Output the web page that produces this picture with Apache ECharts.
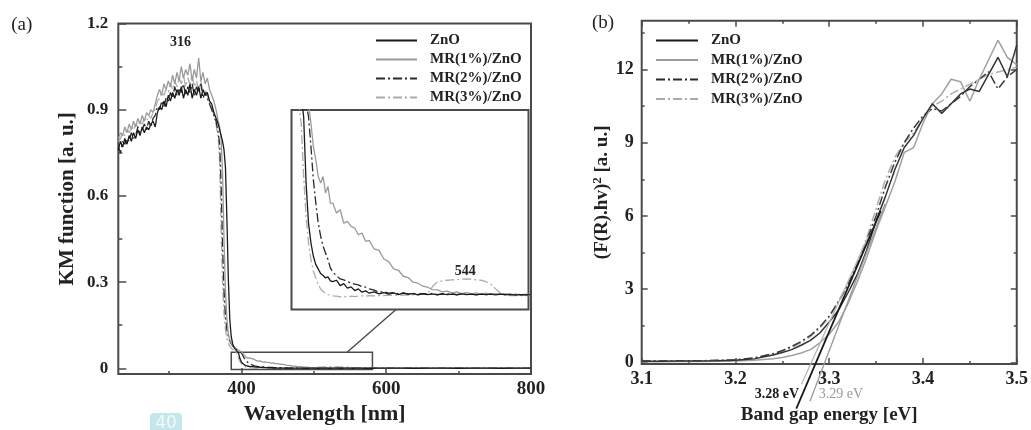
<!DOCTYPE html>
<html><head><meta charset="utf-8">
<script src="https://cdn.jsdelivr.net/npm/echarts@6/dist/echarts.min.js"></script>
<style>html,body{margin:0;padding:0;background:#fff}#c{width:1031px;height:430px}</style>
</head><body><div id="c"></div>
<script>
// ---------------- DATA ----------------
const seriesNames = ['ZnO', 'MR(1%)/ZnO', 'MR(2%)/ZnO', 'MR(3%)/ZnO'];

// (a) KM function vs wavelength
const wavelengths = [
  230,233,236,239,242,245,248,251,254,257,260,263,266,269,272,275,278,281,284,287,290,293,296,299,302,305,308,311,314,317,320,323,326,329,332,335,338,341,344,347,350,353,356,359,362,365,368,
  370,372,374,376,378,380,382,384,386,388,390,392,394,396,398,400,
  402,404,406,408,410,412,414,416,418,420,423,426,429,432,435,438,441,444,447,450,454,458,462,466,470,474,478,482,486,490,
  494,498,502,506,510,514,518,522,526,530,534,538,542,546,550,554,558,562,566,570,575,580,585,
  600,620,640,660,680,700,720,740,760,780,800
];
const kmZnO = [
  0.76,0.79,0.77,0.80,0.78,0.81,0.79,0.82,0.80,0.83,0.81,0.84,0.82,0.84,0.83,0.85,0.86,0.84,0.89,0.91,0.90,0.93,0.91,0.95,0.93,0.96,0.94,0.97,0.95,0.98,0.94,0.97,0.95,0.99,0.94,0.97,0.95,0.98,0.94,0.97,0.95,0.96,0.93,0.92,0.89,0.87,0.85,
  0.83,0.81,0.79,0.76,0.70,0.52,0.31,0.17,0.11,0.085,0.072,0.065,0.060,0.054,0.034,0.022,
  0.016,0.012,0.0095,0.0082,0.0068,0.0062,0.0055,0.0058,0.0046,0.0044,0.0048,0.0032,0.0038,0.0024,0.0028,0.0017,0.0022,0.0012,0.0016,0.0009,0.0013,0.0007,0.0011,0.0006,0.0010,0.0005,0.0009,0.0006,0.0008,0.0004,
  0.0008,0.0005,0.0007,0.0004,0.0007,0.0005,0.0006,0.0004,0.0007,0.0005,0.0006,0.0004,0.0006,0.0005,0.0006,0.0004,0.0006,0.0005,0.0005,0.0004,0.0005,0.0004,0.0005,
  0.0005,0.0006,0.0004,0.0005,0.0006,0.0004,0.0005,0.0005,0.0004,0.0006,0.0005
];
const kmMR1 = [
  0.80,0.82,0.81,0.84,0.82,0.85,0.83,0.86,0.84,0.87,0.85,0.88,0.86,0.89,0.88,0.90,0.89,0.92,0.95,0.97,0.95,0.99,0.97,1.00,0.98,1.02,0.99,1.03,1.00,1.05,1.01,1.04,1.02,1.06,1.00,1.04,1.01,1.08,1.00,1.03,0.99,1.01,0.97,0.95,0.93,0.90,0.86,
  0.84,0.80,0.68,0.45,0.27,0.17,0.12,0.10,0.088,0.080,0.075,0.071,0.067,0.064,0.061,0.058,
  0.052,0.045,0.041,0.036,0.034,0.036,0.031,0.033,0.028,0.028,0.025,0.026,0.022,0.0225,0.021,0.0205,0.0185,0.019,0.0165,0.0168,0.0142,0.0138,0.0112,0.0104,0.0082,0.0078,0.0060,0.0056,0.0042,0.0039,
  0.0030,0.0027,0.0020,0.0019,0.0013,0.0015,0.0010,0.0013,0.0008,0.0011,0.0007,0.0010,0.0006,0.0009,0.0005,0.0008,0.0006,0.0007,0.0005,0.0006,0.0005,0.0006,0.0005,
  0.0005,0.0006,0.0005,0.0004,0.0006,0.0005,0.0005,0.0006,0.0004,0.0005,0.0005
];
const kmMR2 = [
  0.77,0.75,0.79,0.78,0.80,0.79,0.82,0.80,0.81,0.84,0.82,0.83,0.85,0.83,0.86,0.84,0.87,0.88,0.91,0.90,0.93,0.91,0.94,0.93,0.96,0.94,0.98,0.95,0.97,0.96,0.99,0.95,0.98,0.96,0.99,0.95,0.98,0.96,0.99,0.94,0.96,0.94,0.92,0.90,0.88,0.86,0.82,
  0.78,0.64,0.43,0.27,0.18,0.135,0.11,0.095,0.085,0.078,0.072,0.068,0.064,0.061,0.058,0.054,
  0.045,0.035,0.028,0.022,0.018,0.015,0.013,0.011,0.0085,0.0072,0.0062,0.0052,0.0049,0.0044,0.0040,0.0036,0.0034,0.0029,0.0027,0.0022,0.0018,0.0012,0.0014,0.0009,0.0011,0.0007,0.0010,0.0006,0.0009,0.0006,
  0.0008,0.0006,0.0008,0.0005,0.0007,0.0006,0.0008,0.0005,0.0007,0.0005,0.0006,0.0005,0.0007,0.0005,0.0006,0.0005,0.0006,0.0005,0.0006,0.0004,0.0005,0.0005,0.0004,
  0.0005,0.0004,0.0006,0.0005,0.0005,0.0004,0.0006,0.0005,0.0005,0.0004,0.0005
];
const kmMR3 = [
  0.79,0.80,0.82,0.81,0.83,0.82,0.84,0.83,0.85,0.84,0.86,0.85,0.87,0.86,0.88,0.87,0.89,0.90,0.93,0.94,0.96,0.95,0.97,0.96,0.99,0.97,1.00,0.98,1.01,0.99,1.02,0.98,1.01,0.99,1.02,0.98,1.00,0.97,1.00,0.96,0.97,0.95,0.93,0.91,0.88,0.85,0.80,
  0.72,0.48,0.30,0.19,0.135,0.105,0.088,0.077,0.070,0.065,0.061,0.058,0.052,0.036,0.024,0.016,
  0.011,0.0075,0.0055,0.0035,0.0022,0.0014,0.0009,0.0005,0.0003,0.0001,0.0000,-0.0002,-0.0001,-0.0002,0.0000,-0.0001,0.0000,0.0001,0.0000,0.0002,0.0001,0.0002,0.0002,0.0003,0.0002,0.0003,0.0004,0.0003,0.0004,0.0005,
  0.0006,0.0008,0.0029,0.0043,0.0046,0.0048,0.0049,0.0050,0.0051,0.0052,0.0051,0.0049,0.0048,0.0044,0.0036,0.0022,0.0009,0.0003,0.0002,0.0002,0.0002,0.0002,0.0002,
  0.0003,0.0002,0.0003,0.0002,0.0002,0.0003,0.0002,0.0003,0.0002,0.0002,0.0003
];
const wlMajorTicks = [400, 600, 800];
const wlMinorTicks = [300, 500, 700];
const kmMajorTicks = [0, 0.3, 0.6, 0.9, 1.2];
const kmMinorTicks = [0.15, 0.45, 0.75, 1.05];
const zoomWindowWl = [386, 581];
const zoomWindowKm = [-0.004, 0.056];
const peakNotes = [{ text: '316', x: 316, y: 1.136 }];     // main panel
const insetNotes = [{ text: '544', x: 529, y: 0.0074 }];   // inset

// (b) (F(R).hv)^2 vs energy
const energies = [3.10,3.12,3.14,3.16,3.18,3.20,3.22,3.24,3.25,3.26,3.27,3.28,3.29,3.30,3.31,3.32,3.33,3.34,3.35,3.36,3.37,3.38,3.39,3.40,3.41,3.42,3.43,3.44,3.45,3.46,3.47,3.48,3.49,3.50];
const fZnO = [0.04,0.04,0.05,0.05,0.06,0.08,0.14,0.30,0.40,0.52,0.70,0.90,1.20,1.65,2.15,2.85,3.60,4.60,5.80,6.80,7.90,8.80,9.30,10.0,10.6,10.2,10.6,11.0,11.2,11.1,11.8,12.5,11.7,13.0];
const fMR1 = [0.02,0.02,0.03,0.03,0.04,0.05,0.08,0.15,0.20,0.28,0.38,0.52,0.80,1.15,1.65,2.40,3.30,4.30,5.40,6.40,7.40,8.60,8.80,9.80,10.6,11.0,11.6,11.5,10.7,11.6,12.4,13.2,12.5,12.2];
const fMR2 = [0.05,0.05,0.06,0.06,0.08,0.10,0.18,0.35,0.48,0.65,0.85,1.10,1.45,1.90,2.50,3.20,4.00,5.00,6.00,7.20,8.20,9.00,9.60,10.1,10.4,10.3,10.6,10.9,11.3,11.6,11.9,11.2,11.7,12.0];
const fMR3 = [0.04,0.04,0.05,0.05,0.07,0.09,0.16,0.33,0.45,0.60,0.80,1.05,1.40,1.85,2.45,3.20,4.10,5.10,6.30,7.50,8.40,9.00,9.40,10.0,10.5,10.7,11.0,11.2,11.4,11.6,11.8,11.9,12.0,12.1];
const eMajorTicks = [3.1, 3.2, 3.3, 3.4, 3.5];
const eMinorTicks = [3.15, 3.25, 3.35, 3.45];
const fMajorTicks = [0, 3, 6, 9, 12];
const fMinorTicks = [1.5, 4.5, 7.5, 10.5, 13.5];
// linear fits (band-gap extrapolation): intercept [eV], slope [a.u./eV], labels
const fitIntercepts = [3.286, 3.281, 3.2953];
const fitSlopes = [90, 85, 101];
const fitLabels = ['3.28 eV', '', '3.29 eV'];

// ---------------- STYLE ----------------
const FONT = "'Liberation Serif','Times New Roman',serif";
const AX = '#4a4a4a';
const TXT = '#222';
const lineColors = ['#1a1a1a', '#9a9a9a', '#2a2a2a', '#ababab'];
const rightColors = ['#333333', '#a0a0a0', '#3a3a3a', '#b0b0b0'];
const dashDot = [9, 3, 2, 3];
const lineTypes = ['solid', 'solid', dashDot, dashDot];
const fitExtents = [[-1.9, 6.2], [-0.9, 5.2], [-1.6, 6.5]];
const fitColors = ['#1a1a1a', '#b8b8b8', '#9a9a9a'];

const chart = echarts.init(document.getElementById('c'), null, { renderer: 'canvas' });

function tickAxis(o) {
  const a = {
    type: 'value', gridIndex: o.grid, min: o.min, max: o.max, position: o.position,
    axisLine: { show: false, onZero: false },
    splitLine: { show: false },
    axisTick: { show: true, inside: true, length: o.len, customValues: o.ticks, lineStyle: { color: AX, width: 1.5 } },
    axisLabel: { show: false }
  };
  if (o.labels) {
    a.axisLabel = {
      show: true, customValues: o.labels, margin: o.margin, color: TXT,
      fontFamily: FONT, fontWeight: 'bold', fontSize: o.fontSize || 16,
      formatter: o.fmt
    };
  }
  if (o.name) {
    a.name = o.name; a.nameLocation = 'middle'; a.nameGap = o.nameGap;
    a.nameTextStyle = Object.assign({ fontFamily: FONT, fontWeight: 'bold', fontSize: o.nameSize || 19, color: TXT }, o.nameStyle || {});
  }
  return a;
}
const fmtKM = v => (v === 0 ? '0' : v.toFixed(1));
const fmtE = v => v.toFixed(1);
const fmtF = v => String(v);

const xAxis = [
  tickAxis({ grid: 0, min: 230, max: 800, position: 'bottom', len: 6, ticks: wlMajorTicks, labels: wlMajorTicks, margin: 5, fontSize: 19, fmt: v => String(v), name: 'Wavelength [nm]', nameGap: 24, nameSize: 22 }),
  tickAxis({ grid: 0, min: 230, max: 800, position: 'bottom', len: 3, ticks: wlMinorTicks }),
  { type: 'value', gridIndex: 1, min: zoomWindowWl[0], max: zoomWindowWl[1], show: false },
  tickAxis({ grid: 2, min: 3.1, max: 3.5, position: 'bottom', len: 6, ticks: eMajorTicks, labels: eMajorTicks, margin: 6, fontSize: 18, fmt: fmtE, name: 'Band gap energy [eV]', nameGap: 42, nameSize: 19 }),
  tickAxis({ grid: 2, min: 3.1, max: 3.5, position: 'bottom', len: 3, ticks: eMinorTicks }),
  tickAxis({ grid: 2, min: 3.1, max: 3.5, position: 'top', len: 6, ticks: eMajorTicks }),
  tickAxis({ grid: 2, min: 3.1, max: 3.5, position: 'top', len: 3, ticks: eMinorTicks })
];
const yAxis = [
  tickAxis({ grid: 0, min: -0.02, max: 1.2, position: 'left', len: 8, ticks: kmMajorTicks, labels: kmMajorTicks, margin: 10, fontSize: 17, fmt: fmtKM, name: 'KM function [a. u.]', nameGap: 40, nameSize: 21 }),
  tickAxis({ grid: 0, min: -0.02, max: 1.2, position: 'left', len: 4, ticks: kmMinorTicks }),
  { type: 'value', gridIndex: 1, min: zoomWindowKm[0], max: zoomWindowKm[1], show: false },
  tickAxis({ grid: 2, min: -0.07, max: 14, position: 'left', len: 6, ticks: fMajorTicks, labels: fMajorTicks, margin: 8, fontSize: 18, fmt: fmtF,
    name: '(F(R).hv){sup|2} [a. u.]', nameGap: 24, nameSize: 19,
    nameStyle: { rich: { sup: { fontFamily: FONT, fontWeight: 'bold', fontSize: 13, color: TXT, padding: [0, 0, 9, 0] } } } }),
  tickAxis({ grid: 2, min: -0.07, max: 14, position: 'left', len: 3, ticks: fMinorTicks }),
  tickAxis({ grid: 2, min: -0.07, max: 14, position: 'right', len: 6, ticks: fMajorTicks }),
  tickAxis({ grid: 2, min: -0.07, max: 14, position: 'right', len: 3, ticks: fMinorTicks })
];

const kmSets = [kmZnO, kmMR1, kmMR2, kmMR3];
const fSets = [fZnO, fMR1, fMR2, fMR3];
const series = [];
kmSets.forEach((vals, i) => {
  const s = {
    name: seriesNames[i], type: 'line', xAxisIndex: 0, yAxisIndex: 0, symbol: 'none', silent: true,
    color: lineColors[i],
    lineStyle: { color: lineColors[i], width: 1.3, type: lineTypes[i] },
    data: wavelengths.map((w, k) => [w, vals[k]]), z: 4 - i
  };
  if (i === 0) {
    s.markArea = {
      silent: true,
      itemStyle: { color: 'rgba(0,0,0,0)', borderColor: AX, borderWidth: 1.5 },
      data: [[{ coord: [zoomWindowWl[0], zoomWindowKm[1]] }, { coord: [zoomWindowWl[1], zoomWindowKm[0]] }]]
    };
  }
  series.push(s);
});
kmSets.forEach((vals, i) => {
  series.push({
    name: seriesNames[i], type: 'line', xAxisIndex: 2, yAxisIndex: 2, symbol: 'none', silent: true,
    color: lineColors[i], clip: true,
    lineStyle: { color: lineColors[i], width: 1.3, type: lineTypes[i] },
    data: wavelengths.map((w, k) => [w, vals[k]]), z: 6 - i
  });
});
fSets.forEach((vals, i) => {
  series.push({
    name: seriesNames[i], type: 'line', xAxisIndex: 3, yAxisIndex: 3, symbol: 'none', silent: true,
    color: rightColors[i],
    lineStyle: { color: rightColors[i], width: 1.5, type: lineTypes[i] },
    data: energies.map((e, k) => [e, vals[k]]), z: 4 - i
  });
});
fitIntercepts.forEach((e0, i) => {
  const ext = fitExtents[i];
  series.push({
    name: 'fit' + i, type: 'line', xAxisIndex: 3, yAxisIndex: 3, symbol: 'none', silent: true, clip: false,
    lineStyle: { color: fitColors[i], width: i === 0 ? 1.8 : 1.3 },
    data: ext.map(y => [e0 + y / fitSlopes[i], y]), z: 8 - i
  });
});

const legendBase = {
  orient: 'vertical', itemHeight: 14, itemGap: 4, padding: 0, data: seriesNames, selectedMode: false,
  itemStyle: { opacity: 0, borderWidth: 0 },
  textStyle: { fontFamily: FONT, fontWeight: 'bold', fontSize: 15, color: TXT, padding: [0, 0, 0, 8] }
};

chart.setOption({
  animation: false,
  backgroundColor: '#fff',
  grid: [
    { left: 118.3, top: 23.5, width: 412.7, height: 352.2, show: true, borderColor: AX, borderWidth: 2, backgroundColor: 'rgba(0,0,0,0)' },
    { left: 291.5, top: 110, width: 237, height: 199.5, show: true, borderColor: AX, borderWidth: 2, backgroundColor: '#fff', z: 3 },
    { left: 641.7, top: 20.7, width: 376.6, height: 344.3, show: true, borderColor: AX, borderWidth: 2, backgroundColor: 'rgba(0,0,0,0)' }
  ],
  legend: [
    Object.assign({}, legendBase, { left: 375, top: 33, itemWidth: 41 }),
    Object.assign({}, legendBase, { left: 655, top: 33, itemWidth: 42, itemGap: 4.5 })
  ],
  xAxis, yAxis, series
});

// ---------- annotations placed through the scales ----------
const g = [];
const txt = (x, y, text, font, fill, align) => ({
  type: 'text', x, y, silent: true, z: 100,
  style: { text, font, fill, align: align || 'center', verticalAlign: 'middle' }
});
g.push(txt(21.7, 25, '(a)', `19px ${FONT}`, TXT));
g.push(txt(603, 23, '(b)', `19px ${FONT}`, TXT));
peakNotes.forEach(n => {
  const p = chart.convertToPixel({ xAxisIndex: 0, yAxisIndex: 0 }, [n.x, n.y]);
  g.push(txt(p[0], p[1], n.text, `bold 14px ${FONT}`, TXT));
});
insetNotes.forEach(n => {
  const p = chart.convertToPixel({ xAxisIndex: 2, yAxisIndex: 2 }, [n.x, n.y]);
  g.push(txt(p[0], p[1], n.text, `bold 14px ${FONT}`, TXT));
});
// connector from zoom box to inset
const c0 = chart.convertToPixel({ xAxisIndex: 0, yAxisIndex: 0 }, [546, zoomWindowKm[1]]);
const c1 = chart.convertToPixel({ xAxisIndex: 2, yAxisIndex: 2 }, [472, zoomWindowKm[0]]);
g.push({ type: 'line', silent: true, z: 50, shape: { x1: c0[0], y1: c0[1], x2: c1[0], y2: c1[1] }, style: { stroke: AX, lineWidth: 1.4 } });
// fit labels
fitLabels.forEach((lab, i) => {
  if (!lab) return;
  const p = chart.convertToPixel({ xAxisIndex: 3, yAxisIndex: 3 }, [fitIntercepts[i], 0]);
  if (i === 0) g.push(txt(p[0] - 17, p[1] + 32, lab, `bold 14px ${FONT}`, '#1a1a1a', 'right'));
  else g.push(txt(p[0] - 6, p[1] + 32, lab, `14px ${FONT}`, '#9a9a9a', 'left'));
});
// page badge
g.push({ type: 'rect', silent: true, z: 100, shape: { x: 150, y: 413, width: 32, height: 24, r: 4 }, style: { fill: '#c3e7ea' } });
g.push(txt(166, 424, '40', `17px 'DejaVu Sans',sans-serif`, '#f2fbfb'));
chart.setOption({ graphic: g });
</script></body></html>
